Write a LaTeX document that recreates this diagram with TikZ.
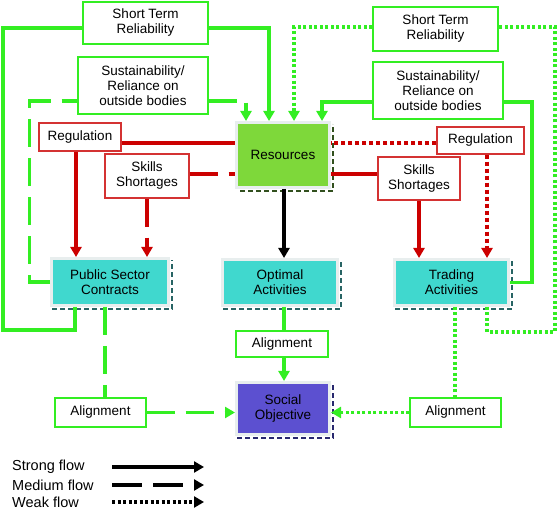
\documentclass[tikz,border=0pt]{standalone}
\usepackage{fontspec}
\setmainfont{Liberation Sans}
\usetikzlibrary{arrows.meta}
\definecolor{lg}{RGB}{51,238,34}
\definecolor{rd}{RGB}{204,0,0}
\definecolor{rdb}{RGB}{212,50,50}
\definecolor{resf}{RGB}{126,216,58}
\definecolor{tealf}{RGB}{64,216,206}
\definecolor{purp}{RGB}{92,80,208}
\definecolor{frm}{RGB}{232,238,238}
\definecolor{shteal}{RGB}{40,100,100}
\definecolor{shgreen}{RGB}{50,80,30}
\definecolor{shnavy}{RGB}{40,40,110}
\begin{document}
\begin{tikzpicture}[x=1pt,y=-1pt,
  every node/.style={font=\fontsize{13.5}{15}\selectfont, align=center, inner sep=0pt},
  gbox/.style={draw=lg, line width=1.3pt, fill=white},
  rbox/.style={draw=rdb, line width=1.3pt, fill=white},
  cbox/.style={draw=frm, line width=3pt},
  shad/.style={line width=1.5pt, dash pattern=on 5pt off 3pt},
  tip/.style={-{Triangle[width=11pt,length=10pt]}},
  gs/.style={draw=lg, line width=3.5pt},
  gd/.style={draw=lg, line width=3.5pt, dash pattern=on 28pt off 11pt},
  gt/.style={draw=lg, line width=3.5pt, dash pattern=on 3pt off 2.5pt},
  rs/.style={draw=rd, line width=4.5pt},
  rdash/.style={draw=rd, line width=4.5pt, dash pattern=on 28pt off 11pt},
  rt/.style={draw=rd, line width=4.5pt, dash pattern=on 4pt off 3pt},
  bs/.style={draw=black, line width=4.5pt},
  bd/.style={draw=black, line width=4pt, dash pattern=on 30pt off 11pt},
  bt/.style={draw=black, line width=4pt, dash pattern=on 3pt off 2.5pt},
  legtext/.style={anchor=west, font=\fontsize{14.5}{16}\selectfont}
]
\useasboundingbox[fill=white] (0,0) rectangle (557,510);

% text boxes
\node[gbox, minimum width=125pt, minimum height=42pt] (stl) at (145.5,23) {Short Term\\Reliability};
\node[gbox, minimum width=125pt, minimum height=44pt] (str) at (435.5,29) {Short Term\\Reliability};
\node[gbox, minimum width=130pt, minimum height=57pt] (sul) at (143,85.5) {Sustainability/\\Reliance on\\outside bodies};
\node[gbox, minimum width=130pt, minimum height=57pt] (sur) at (438,90.5) {Sustainability/\\Reliance on\\outside bodies};
\node[rbox, minimum width=82pt, minimum height=28pt] (regl) at (80,137) {Regulation};
\node[rbox, minimum width=87pt, minimum height=27pt] (regr) at (480.5,140.5) {Regulation};
\node[rbox, minimum width=84pt, minimum height=44pt] (skl) at (147,176) {Skills\\Shortages};
\node[rbox, minimum width=82pt, minimum height=43pt] (skr) at (419,178.5) {Skills\\Shortages};
\node[gbox, minimum width=92pt, minimum height=26pt] (alc) at (282,344) {Alignment};
\node[gbox, minimum width=91pt, minimum height=29pt] (all) at (100.5,412.5) {Alignment};
\node[gbox, minimum width=91pt, minimum height=29pt] (alr) at (455.5,412.5) {Alignment};

% coloured boxes
\node[cbox, fill=resf, minimum width=93pt, minimum height=65pt] (res) at (283,155) {Resources};
\node[cbox, fill=tealf, minimum width=117pt, minimum height=47pt] (psc) at (110,282) {Public Sector\\Contracts};
\node[cbox, fill=tealf, minimum width=115pt, minimum height=46pt] (opt) at (280,282.5) {Optimal\\Activities};
\node[cbox, fill=tealf, minimum width=114pt, minimum height=46pt] (trd) at (451.5,282.5) {Trading\\Activities};
\node[cbox, fill=purp, minimum width=93pt, minimum height=52pt] (soc) at (283,408.5) {Social\\Objective};

% shadows
\draw[shad, shgreen] ([xshift=5pt,yshift=-2pt]res.south west) -- ([xshift=2pt,yshift=-2pt]res.south east) -- ([xshift=2pt,yshift=-3pt]res.north east);
\foreach \b in {psc,opt,trd}{
  \draw[shad, shteal] ([xshift=2pt,yshift=-2pt]\b.south west) -- ([xshift=2pt,yshift=-2pt]\b.south east) -- ([xshift=2pt,yshift=-3pt]\b.north east);
}
\draw[shad, shnavy] ([xshift=2pt,yshift=-2pt]soc.south west) -- ([xshift=2pt,yshift=-2pt]soc.south east) -- ([xshift=2pt,yshift=-3pt]soc.north east);

% helper coordinates
\coordinate (xa) at (246,0);
\coordinate (xb) at (269,0);
\coordinate (xc) at (294,0);
\coordinate (xd) at (322,0);
\coordinate (xm) at (284,0);
\coordinate (x75) at (75,0);
\coordinate (x76) at (76,0);
\coordinate (x105) at (105,0);
\coordinate (x455) at (455,0);
\coordinate (x487) at (487,0);
\coordinate (yr1) at (0,143);
\coordinate (yr2) at (0,174);
\coordinate (lsw) at (3,330);
\coordinate (lnw) at (3,28);
\coordinate (rse) at (555,332);
\coordinate (c532) at (532,102);

% green connectors, left
\draw[gs, tip] ([yshift=-5pt]stl.east) -| (xb |- res.north);
\draw[gs] (x75 |- psc.south) |- (lsw) -- (lnw) -- ([yshift=-5pt]stl.west);
\draw[gd, tip] ([yshift=-15.5pt]sul.east) -| (xa |- res.north);
\draw[gd] (psc.west) -| ([yshift=-15.5pt,xshift=-48pt]sul.west) -- ([yshift=-15.5pt]sul.west);

% green connectors, right
\draw[gt, tip] ([yshift=2pt]str.west) -| (xc |- res.north);
\draw[gt] (x487 |- trd.south) |- (rse) |- ([yshift=2pt]str.east);
\draw[gs, tip] ([yshift=-11.5pt]sur.west) -| (xd |- res.north);
\draw[gs] (trd.east) -| (c532) -- ([yshift=-11.5pt]sur.east);

% red connectors
\draw[rs] (regl.east |- yr1) -- (res.west |- yr1);
\draw[rs, tip] (x76 |- regl.south) -- (x76 |- psc.north);
\draw[rdash] (skl.east |- yr2) -- (res.west |- yr2);
\draw[rdash, tip] (skl.south) -- (skl.south |- psc.north);
\draw[rt] (regr.west |- yr1) -- (res.east |- yr1);
\draw[rt, tip] (x487 |- regr.south) -- (x487 |- trd.north);
\draw[rs] (skr.west |- yr2) -- (res.east |- yr2);
\draw[rs, tip] (skr.south) -- (skr.south |- trd.north);

% black
\draw[bs, tip] (xm |- res.south) -- (xm |- opt.north);

% alignment
\draw[gs] (xm |- opt.south) -- (xm |- alc.north);
\draw[gs, tip] (xm |- alc.south) -- (xm |- soc.north);
\draw[gd] (x105 |- psc.south) -- (x105 |- all.north);
\draw[gd, tip] (all.east) -- (soc.west |- all.east);
\draw[gt] (x455 |- trd.south) -- (x455 |- alr.north);
\draw[gt, tip] (alr.west) -- (soc.east |- alr.west);

% legend
\node[legtext] (l1) at (12,467) {Strong flow};
\node[legtext] (l2) at (12,485) {Medium flow};
\node[legtext] (l3) at (12,502) {Weak flow};
\coordinate (l1s) at (112,467); \coordinate (l1e) at (204,467);
\coordinate (l2s) at (112,485); \coordinate (l2e) at (204,485);
\coordinate (l3s) at (112,502); \coordinate (l3e) at (204,502);
\draw[bs, line width=4pt, tip] (l1s) -- (l1e);
\draw[bd, tip] (l2s) -- (l2e);
\draw[bt, tip] (l3s) -- (l3e);
\end{tikzpicture}
\end{document}
